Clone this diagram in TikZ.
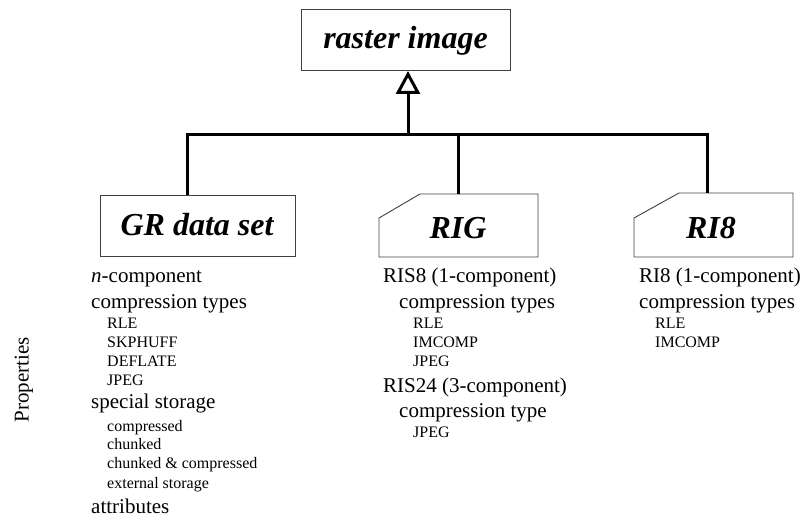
\documentclass[tikz,border=0pt]{standalone}
\usepackage{fontspec}
\setmainfont{Liberation Serif}
\usetikzlibrary{arrows.meta}
\tikzset{
  boxline/.style={draw=black!75, line width=0.9pt},
  titletext/.style={font=\fontsize{32}{36}\selectfont\bfseries\itshape, inner sep=0pt},
  big/.style={font=\fontsize{21}{24}\selectfont, anchor=base west, inner sep=0pt},
  small/.style={font=\fontsize{16}{18}\selectfont, anchor=base west, inner sep=0pt},
  conn/.style={line width=3pt, draw=black},
}
\begin{document}
\begin{tikzpicture}[x=1pt,y=-1pt]
\useasboundingbox (0,0) rectangle (806,516);
% boxes
\draw[boxline] (301,9) rectangle (510,70);
\node[titletext] (raster) at (405.5,41) {raster image};
\coordinate (rasterb) at (408,71);
\draw[boxline] (100,195) rectangle (295,256);
\node[titletext] (gr) at (197,225) {GR data set};
\coordinate (grt) at (187,195);
\draw[boxline] (379,218) -- (420,194) -- (538,194) -- (538,257) -- (379,257) -- cycle;
\node[titletext] (rig) at (458,228) {RIG};
\coordinate (rigt) at (458,194);
\draw[boxline] (634,218) -- (679,193) -- (793,193) -- (793,257) -- (634,257) -- cycle;
\node[titletext] (ri8) at (711,228) {RI8};
\coordinate (ri8t) at (707,193);
% connectors
\coordinate (bar) at (408,135);
\draw[conn] (grt) -- (187,135) -- (707,135) -- (ri8t);
\draw[conn] (rigt) -- (458,135);
\draw[conn, -{Triangle[open, length=23pt, width=24pt, line width=3pt]}] (bar) -- (rasterb);
% left label
\node[font=\fontsize{21}{24}\selectfont, rotate=90, inner sep=0pt] (props) at (24,380) {Properties};
% GR column
\node[big] (g1) at (91,282) {\textit{n}-component};
\node[big] (g2) at (91,308) {compression types};
\node[small] (g3) at (107,328) {RLE};
\node[small] (g4) at (107,347) {SKPHUFF};
\node[small] (g5) at (107,366) {DEFLATE};
\node[small] (g6) at (107,385) {JPEG};
\node[big] (g7) at (91,408) {special storage};
\node[small] (g8) at (107,431) {compressed};
\node[small] (g9) at (107,449) {chunked};
\node[small] (g10) at (107,468) {chunked \& compressed};
\node[small] (g11) at (107,488) {external storage};
\node[big] (g12) at (91,513) {attributes};
% RIG column
\node[big] (r1) at (383,282) {RIS8 (1-component)};
\node[big] (r2) at (399,308) {compression types};
\node[small] (r3) at (413,328) {RLE};
\node[small] (r4) at (413,347) {IMCOMP};
\node[small] (r5) at (413,366) {JPEG};
\node[big] (r6) at (383,392) {RIS24 (3-component)};
\node[big] (r7) at (399,417) {compression type};
\node[small] (r8) at (413,437) {JPEG};
% RI8 column
\node[big] (s1) at (639,282) {RI8 (1-component)};
\node[big] (s2) at (639,308) {compression types};
\node[small] (s3) at (655,328) {RLE};
\node[small] (s4) at (655,347) {IMCOMP};
\end{tikzpicture}
\end{document}
